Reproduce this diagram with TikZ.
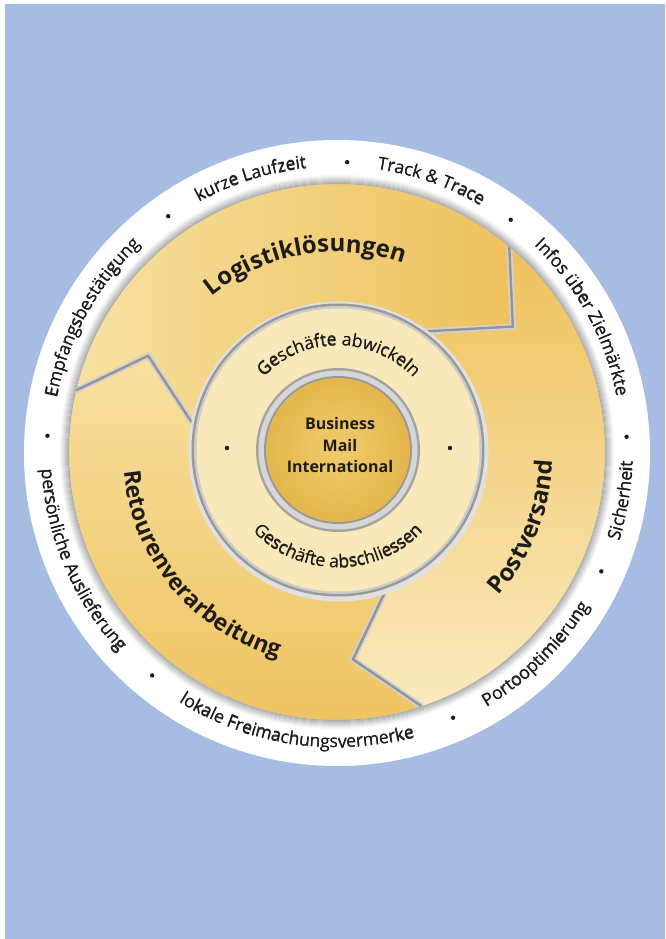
\documentclass[tikz,border=0pt]{standalone}
\usepackage{fontspec}
\setmainfont{Open Sans}
\newfontfamily\ringf{Open Sans}
\usetikzlibrary{decorations.text}
\definecolor{bgblue}{RGB}{167,188,226}
\definecolor{gl}{RGB}{247,224,160}
\definecolor{gd}{RGB}{238,193,92}
\definecolor{gc}{RGB}{250,234,190}
\definecolor{cream}{RGB}{249,233,186}
\definecolor{diskl}{RGB}{241,204,108}
\definecolor{diskd}{RGB}{228,182,76}
\definecolor{txt}{RGB}{30,28,24}
\def\rfont{\ringf\fontsize{17.5}{20}\selectfont\color{txt}}
\def\bfont{\bfseries\fontsize{24}{26}\selectfont\color{txt}}
\def\cfont{\bfseries\fontsize{23}{26}\selectfont\color{txt}}
\def\mfont{\ringf\fontsize{17.5}{20}\selectfont\color{txt}}
% label on an arc; drawn twice with a tiny shift to give a semibold look
\newcommand\toplabel[5][0]{%
  \pgfmathsetmacro\sa{#2+80}\pgfmathsetmacro\ea{#2-80}%
  \pgfmathsetmacro\rb{#3+#1}%
  \path[decorate,decoration={text along path,text={|#4|#5},text align=center}]
    (\sa:#3) arc[start angle=\sa,end angle=\ea,radius=#3];
  \ifdim #1pt>0pt
  \path[decorate,decoration={text along path,text={|#4|#5},text align=center}]
    (\sa:\rb) arc[start angle=\sa,end angle=\ea,radius=\rb];
  \fi}
\newcommand\botlabel[5][0]{%
  \pgfmathsetmacro\sa{#2-80}\pgfmathsetmacro\ea{#2+80}%
  \pgfmathsetmacro\rb{#3-#1}%
  \path[decorate,decoration={text along path,text={|#4|#5},text align=center}]
    (\sa:#3) arc[start angle=\sa,end angle=\ea,radius=#3];
  \ifdim #1pt>0pt
  \path[decorate,decoration={text along path,text={|#4|#5},text align=center}]
    (\sa:\rb) arc[start angle=\sa,end angle=\ea,radius=\rb];
  \fi}
\tikzset{
  sepline/.style={line width=2.4pt,black!42,line join=miter},
  sepsoft/.style={line width=6pt,black!18,line join=miter},
  ringdot/.style={fill=txt},
}
\begin{document}
\begin{tikzpicture}[x=1pt,y=1pt]
\useasboundingbox (-337,-487) rectangle (328,452);
\fill[white] (-337,-487) rectangle (328,452);
\fill[bgblue] (-332,-487) rectangle (328,448);
% white outer disk
\fill[white] (0,-1) circle[radius=313];
% coordinates of separators
\coordinate (O1) at (50:268);   \coordinate (T1) at (35.5:216); \coordinate (I1) at (56:145);
\coordinate (O2) at (288.4:268);\coordinate (T2) at (274.4:208);\coordinate (I2) at (290.1:145);
\coordinate (O3) at (166.7:268);\coordinate (T3) at (153:212);  \coordinate (I3) at (169.8:145);
% Logistik region
\shade[left color=gl,right color=gd]
  (166.7:268) arc[start angle=166.7,end angle=50,radius=268] -- (T1) -- (56:140)
  arc[start angle=56,end angle=169.8,radius=140] -- (T3) -- cycle;
% Postversand region
\shade[top color=gd,bottom color=gc]
  (50:268) arc[start angle=50,end angle=-71.6,radius=268] -- (T2) -- (-69.9:140)
  arc[start angle=-69.9,end angle=56,radius=140] -- (T1) -- cycle;
% Retouren region
\shade[top color=gl,bottom color=gd]
  (288.4:268) arc[start angle=288.4,end angle=166.7,radius=268] -- (T3) -- (169.8:140)
  arc[start angle=169.8,end angle=290.1,radius=140] -- (T2) -- cycle;
% separators
\draw[sepsoft] (O1) -- (T1) -- (I1);
\draw[sepsoft] (O2) -- (T2) -- (I2);
\draw[sepsoft] (O3) -- (T3) -- (I3);
\draw[sepline] (O1) -- (T1) -- (I1);
\draw[sepline] (O2) -- (T2) -- (I2);
\draw[sepline] (O3) -- (T3) -- (I3);
% inner shadow of the white ring
\foreach \i in {0,...,8}{
  \pgfmathsetmacro\g{32-3.6*\i}
  \draw[line width=1.2pt,black!\g] (0,0) circle[radius=268.5+\i];
}
% middle ring
\begin{scope}[shift={(1,2)}]
  \fill[black!12] (0.5,-1.5) circle[radius=150];
  \fill[black!40] (0,0) circle[radius=146.5];
  \fill[black!20] (0,0) circle[radius=144];
  \fill[cream] (0,0) circle[radius=141.5];
  \fill[black!36] (0,0) circle[radius=82];
  \fill[black!16] (0,0) circle[radius=79.5];
  \fill[black!40] (0,0) circle[radius=74];
  \shade[inner color=diskl,outer color=diskd] (0,0) circle[radius=72];
  \toplabel[0.5]{89.5}{104}{\mfont}{Geschäfte abwickeln}
  \botlabel[0.5]{270}{118}{\mfont}{Geschäfte abschliessen}
  \fill[ringdot] (-111,2) circle[radius=2.2];
  \fill[ringdot] (112,2) circle[radius=2.2];
\end{scope}
\node[align=center,font=\bfseries\fontsize{16}{21.5}\selectfont,text=txt] (bmi) at (3,6.5)
  {Business\\Mail\\International};
% big labels
\toplabel{99.7}{200}{\bfont}{Logistiklösungen}
\botlabel{338}{216}{\bfont}{Postversand}
\botlabel{219.6}{214}{\cfont}{Retourenverarbeitung}
% ring labels
\toplabel[0.5]{151.3}{285}{\rfont}{Empfangsbestätigung}
\toplabel[0.5]{107.5}{285}{\rfont}{kurze Laufzeit}
\toplabel[0.5]{70.8}{285}{\rfont}{Track {\&} Trace}
\toplabel[0.5]{28.7}{285}{\rfont}{Infos über Zielmärkte}
\botlabel[0.5]{350.3}{296}{\rfont}{Sicherheit}
\botlabel[0.5]{314.5}{296}{\rfont}{Portooptimierung}
\botlabel[0.5]{261.5}{296}{\rfont}{lokale Freimachungsvermerke}
\botlabel[0.5]{203}{296}{\rfont}{persönliche Auslieferung}
% ring dots
\foreach \a in {176.8,125.6,88,53.2,3,-24.3,-66.4,230.4}{
  \fill[ringdot] (\a:290) circle[radius=2.2];
}
\end{tikzpicture}
\end{document}
